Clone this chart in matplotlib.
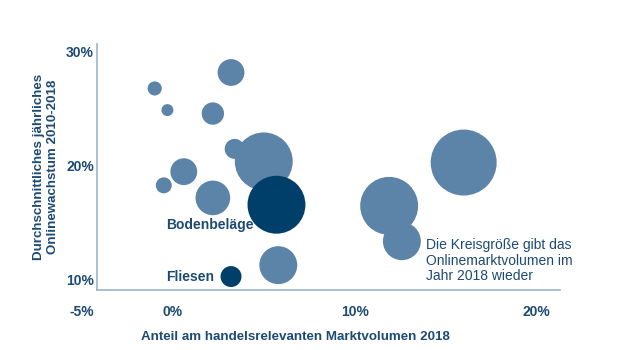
import matplotlib
matplotlib.use("Agg")
import matplotlib.pyplot as plt

plt.rcParams["font.family"] = ["Liberation Sans", "DejaVu Sans"]

NAVY = "#1d4a74"
LIGHT = "#5b84a8"
DARK = "#003f6a"
SPINE = "#9bb4cb"

# Anteil am handelsrelevanten Marktvolumen 2018 (%)
anteil = [3.2, -1.0, -0.3, 2.2, 3.4, 5.0, 0.6, -0.5, 2.2, 5.7, 11.9, 16.0, 12.6, 5.8, 3.2]
# Durchschnittliches jährliches Onlinewachstum 2010-2018 (%)
wachstum = [28.2, 26.8, 24.9, 24.6, 21.5, 20.4, 19.5, 18.3, 17.2, 16.6, 16.5, 20.3, 13.4, 11.3, 10.3]
# Onlinemarktvolumen 2018 (relative Größe)
volumen = [180, 50, 36, 125, 100, 840, 180, 64, 300, 840, 840, 1090, 360, 360, 110]
hervorgehoben = [False, False, False, False, False, False, False, False, False,
                 True, False, False, False, False, True]
labels = {9: "Bodenbeläge", 14: "Fliesen"}

fig = plt.figure(figsize=(6.2, 3.5), dpi=100)
ax = fig.add_axes([82 / 620, 1 - 290 / 350, (560 - 82) / 620, (290 - 44) / 350])

# Achsenlinien zuerst, set_position setzt die Ticks zurueck
for s in ("top", "right"):
    ax.spines[s].set_visible(False)
ax.spines["left"].set_position(("data", -4.2))
ax.spines["bottom"].set_bounds(-4.2, 21.3)
for s in ("left", "bottom"):
    ax.spines[s].set_color(SPINE)
    ax.spines[s].set_linewidth(1.2)

# grosse Kreise zuerst, damit kleine sichtbar bleiben; hervorgehobene oben
order = sorted(range(len(anteil)), key=lambda i: (hervorgehoben[i], -volumen[i]))
for i in order:
    ax.scatter(anteil[i], wachstum[i], s=volumen[i] * 2.07,
               color=DARK if hervorgehoben[i] else LIGHT, edgecolors="none",
               zorder=3 if hervorgehoben[i] else 2)

ax.text(2.05, 14.8, labels[9], color=NAVY, fontsize=10, fontweight="bold",
        ha="center", va="center")
ax.text(0.93, 10.28, labels[14], color=NAVY, fontsize=10, fontweight="bold",
        ha="center", va="center")
ax.text(13.9, 11.7, "Die Kreisgröße gibt das\nOnlinemarktvolumen im\nJahr 2018 wieder",
        color=NAVY, fontsize=10, ha="left", va="center", linespacing=1.15)

ax.set_xlim(-5, 21.3)
ax.set_ylim(9.12, 30.7)
ax.set_xticks([-5, 0, 10, 20])
ax.set_xticklabels(["-5%", "0%", "10%", "20%"], fontweight="bold", color=NAVY, fontsize=10)
ax.set_yticks([10, 20, 30])
ax.set_yticklabels(["10%", "20%", "30%"], fontweight="bold", color=NAVY, fontsize=10)
ax.tick_params(length=0)
ax.tick_params(axis="x", pad=11)
ax.tick_params(axis="y", pad=2)

ax.set_xlabel("Anteil am handelsrelevanten Marktvolumen 2018", color=NAVY,
              fontsize=9.6, fontweight="bold")
ax.xaxis.set_label_coords((295 - 82) / (560 - 82), -0.165)
ax.set_ylabel("Durchschnittliches jährliches\nOnlinewachstum 2010-2018", color=NAVY,
              fontsize=9.6, fontweight="bold", linespacing=1.2)
ax.yaxis.set_label_coords((46 - 82) / (560 - 82), 0.5)
ax.yaxis.label.set_va("center")

fig.savefig("out.png", dpi=100)
